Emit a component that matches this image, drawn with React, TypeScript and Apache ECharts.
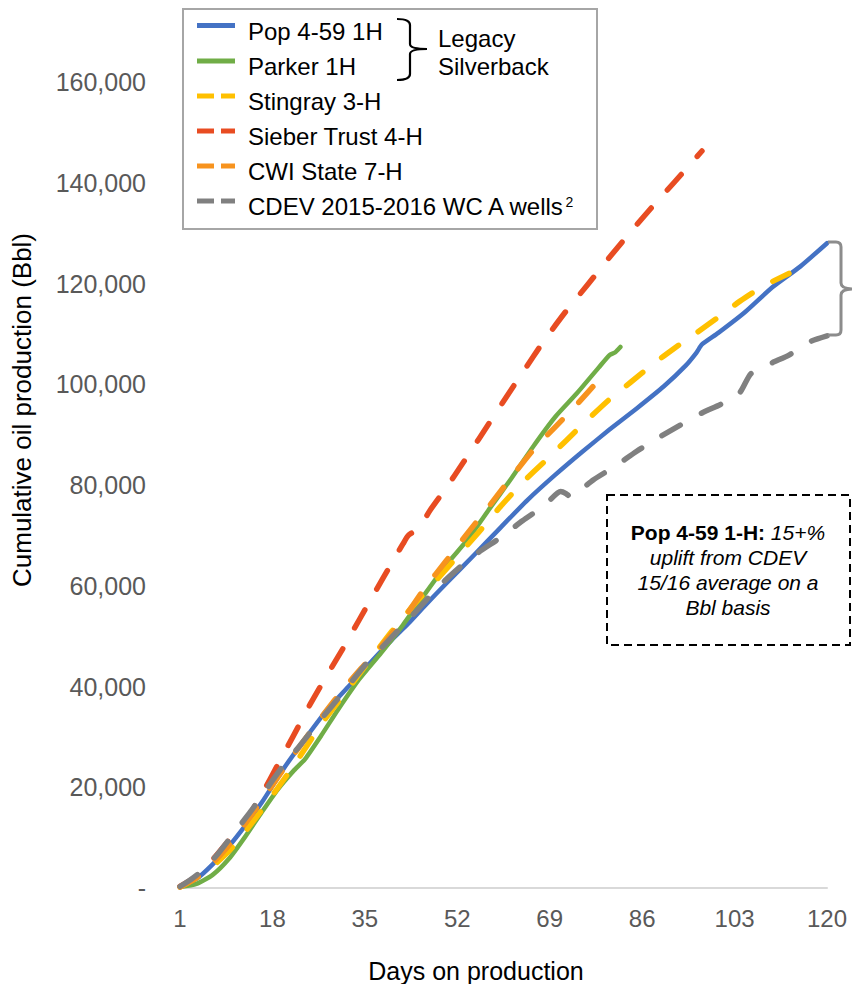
import React, { useEffect, useRef } from 'react';
import * as echarts from 'echarts';

const FONT = 'Liberation Sans, Arial, Helvetica, sans-serif';

// x axis: days on production
const days: string[] = Array.from({ length: 120 }, (_, i) => String(i + 1));

// [day, cumulative Bbl]
const popData: [number, number][] = [
  [1, 300], [4, 1800], [7, 4700], [10, 8300], [13, 12400], [16, 16900], [20, 23600], [24, 29600],
  [28, 35300], [32, 40000], [36, 44700], [40, 49300], [43, 52500], [46, 56000], [50, 60500],
  [55, 66000], [60, 71600], [65, 77100], [70, 82000], [75, 86600], [80, 91000], [85, 95200],
  [90, 99600], [94, 103700], [96, 106300], [97, 107900], [100, 110200], [105, 114400],
  [110, 119300], [115, 123300], [120, 128000],
];

const parkerData: [number, number][] = [
  [1, 200], [4, 800], [7, 2600], [10, 5800], [13, 10200], [16, 15000], [19, 19600], [22, 23400],
  [24, 25600], [27, 30300], [30, 35300], [34, 41500], [38, 46700], [42, 52200], [46, 58300],
  [50, 64200], [54, 69300], [58, 75400], [62, 81400], [66, 87700], [70, 93500], [74, 98200],
  [78, 103300], [80, 105800], [81, 106300], [82, 107400],
];

const stingrayData: [number, number][] = [
  [1, 200], [4, 2000], [7, 4300], [10, 7300], [13, 11200], [16, 15400], [19, 19900], [22, 24400],
  [25, 29300], [28, 34000], [31, 38200], [34, 42500], [37, 46800], [40, 51000], [44, 56200],
  [48, 60900], [52, 65800], [56, 70700], [60, 75800], [64, 80500], [68, 84600], [72, 88800],
  [76, 93000], [80, 97000], [84, 100500], [88, 104000], [92, 107200], [96, 110200], [100, 113300],
  [104, 116500], [108, 119300], [113, 122000],
];

const sieberData: [number, number][] = [
  [1, 300], [4, 2300], [7, 5600], [10, 9500], [13, 13300], [16, 18500], [19, 24500], [22, 30500],
  [25, 36600], [28, 42200], [31, 47600], [34, 53300], [37, 59000], [40, 64600], [42, 68300],
  [43, 70000], [45, 71500], [47, 75000], [50, 79500], [53, 84300], [56, 89200], [60, 95800],
  [64, 102300], [68, 108700], [72, 114500], [76, 119800], [80, 125200], [84, 130400],
  [88, 135400], [92, 140200], [97, 146300],
];

const cwiData: [number, number][] = [
  [1, 200], [4, 2000], [7, 4900], [10, 8500], [13, 12800], [16, 17300], [19, 22000], [22, 26600],
  [25, 31000], [28, 35300], [31, 39400], [34, 43200], [37, 46700], [40, 50600], [43, 54800],
  [46, 59500], [50, 65000], [54, 70600], [58, 76000], [62, 81600], [66, 87000], [70, 91500],
  [74, 96000], [78, 100800],
];

const cdevData: [number, number][] = [
  [1, 300], [3, 1700], [5, 3400], [8, 6800], [11, 11000], [14, 15200], [17, 19800], [20, 24300],
  [23, 28200], [26, 32300], [29, 36200], [32, 40200], [35, 44200], [38, 47600], [41, 51000],
  [44, 54400], [47, 58000], [50, 61300], [53, 64200], [56, 66700], [60, 69600], [64, 72900],
  [68, 75900], [71, 78700], [72, 78300], [73, 77500], [74, 78400], [77, 81000], [81, 83700],
  [85, 86700], [89, 89400], [93, 91900], [97, 94300], [101, 96300], [104, 98400], [106, 102100],
  [110, 104300], [113, 105800], [117, 108500], [120, 109600],
];

const seriesNames = [
  'Pop 4-59 1H',
  'Parker 1H',
  'Stingray 3-H',
  'Sieber Trust 4-H',
  'CWI State 7-H',
  'CDEV 2015-2016 WC A wells',
];
const seriesColors = ['#4472C4', '#70AD47', '#FFC000', '#E84C22', '#F7931E', '#808080'];
const seriesDashed = [false, false, true, true, true, true];
const seriesData = [popData, parkerData, stingrayData, sieberData, cwiData, cdevData];

const yMax = 160000;
const yStep = 20000;

export default function App() {
  const ref = useRef<HTMLDivElement>(null);

  useEffect(() => {
    document.body.style.margin = '0';
    if (!ref.current) return;

    echarts.graphic.registerShape(
      'legendBrace',
      echarts.graphic.extendPath(
        'M0,0 Q13,0 13,6 L13,25 Q13,30 30,30 M30,30 Q13,30 13,35 L13,55 Q13,61 0,61',
        {}
      )
    );
    echarts.graphic.registerShape(
      'rightBrace',
      echarts.graphic.extendPath(
        'M0,0 L8,0 Q13,0 13,5 L13,41 Q13,47 26,47 M26,47 Q13,47 13,53 L13,88 Q13,93 8,93 L0,93',
        {}
      )
    );

    const chart = echarts.init(ref.current, undefined, { renderer: 'svg' });

    const legendText = [31, 66.5, 101.5, 136.5, 171.5, 206.5];
    const legendElems: any[] = [
      {
        type: 'rect',
        z: 100,
        shape: { x: 183, y: 9, width: 414, height: 220 },
        style: { fill: '#ffffff', stroke: '#a6a6a6', lineWidth: 2 },
      },
    ];
    seriesNames.forEach((name, i) => {
      const ty = legendText[i];
      const ly = ty - 5.5;
      if (seriesDashed[i]) {
        legendElems.push({
          type: 'line', z: 101,
          shape: { x1: 197, y1: ly, x2: 214, y2: ly },
          style: { stroke: seriesColors[i], lineWidth: 5 },
        });
        legendElems.push({
          type: 'line', z: 101,
          shape: { x1: 221, y1: ly, x2: 235, y2: ly },
          style: { stroke: seriesColors[i], lineWidth: 5 },
        });
      } else {
        legendElems.push({
          type: 'line', z: 101,
          shape: { x1: 197, y1: ly, x2: 235, y2: ly },
          style: { stroke: seriesColors[i], lineWidth: 5 },
        });
      }
      const isCdev = i === 5;
      legendElems.push({
        type: 'text', z: 101, x: 248, y: ty,
        style: {
          text: isCdev ? name + '{sup|2}' : name,
          fontSize: 24, fontFamily: FONT, fill: '#000000',
          verticalAlign: 'middle', align: 'left',
          rich: isCdev ? { sup: { fontSize: 14, fontFamily: FONT, fill: '#000000', verticalAlign: 'top' } } : undefined,
        },
      });
    });
    legendElems.push({
      type: 'legendBrace', z: 101, x: 397, y: 19,
      style: { fill: 'none', stroke: '#000000', lineWidth: 2.2 },
    });
    legendElems.push({
      type: 'text', z: 101, x: 438, y: 38,
      style: { text: 'Legacy', fontSize: 24, fontFamily: FONT, fill: '#000000', verticalAlign: 'middle' },
    });
    legendElems.push({
      type: 'text', z: 101, x: 438, y: 66,
      style: { text: 'Silverback', fontSize: 24, fontFamily: FONT, fill: '#000000', verticalAlign: 'middle' },
    });

    const option: any = {
      animation: false,
      backgroundColor: '#ffffff',
      grid: { left: 180, right: 25, top: 82, bottom: 96, containLabel: false, outerBoundsMode: 'none' },
      xAxis: {
        type: 'category',
        data: days,
        boundaryGap: false,
        axisLine: { show: true, lineStyle: { color: '#d9d9d9', width: 2 } },
        axisTick: { show: false },
        splitLine: { show: false },
        axisLabel: {
          interval: 16,
          fontSize: 24,
          fontFamily: FONT,
          color: '#595959',
          margin: 18,
        },
      },
      yAxis: {
        type: 'value',
        min: 0,
        max: yMax,
        interval: yStep,
        axisLine: { show: false },
        axisTick: { show: false },
        splitLine: { show: false },
        axisLabel: {
          fontSize: 25,
          fontFamily: FONT,
          color: '#595959',
          margin: 34,
          formatter: (v: number) => (v === 0 ? '-' : v.toLocaleString('en-US')),
        },
      },
      series: seriesNames.map((name, i) => ({
        name,
        type: 'line',
        symbol: 'none',
        smooth: 0.2,
        z: 2 + i,
        data: seriesData[i].map(([d, v]) => [d - 1, v]),
        lineStyle: {
          color: seriesColors[i],
          width: seriesDashed[i] ? 5.5 : 4.5,
          type: seriesDashed[i] ? [21, 24] : 'solid',
          cap: 'round',
          join: 'round',
        },
        itemStyle: { color: seriesColors[i] },
      })),
      graphic: [
        {
          type: 'text', x: 22, y: 410, rotation: Math.PI / 2,
          style: {
            text: 'Cumulative oil production (Bbl)', fontSize: 26, fontFamily: FONT,
            fill: '#000000', align: 'center', verticalAlign: 'middle',
          },
        },
        {
          type: 'text', x: 476, y: 971,
          style: {
            text: 'Days on production', fontSize: 25, fontFamily: FONT,
            fill: '#000000', align: 'center', verticalAlign: 'middle',
          },
        },
        ...legendElems,
        {
          type: 'rightBrace', x: 828, y: 242, z: 50,
          style: { fill: 'none', stroke: '#8c8c8c', lineWidth: 3 },
        },
        {
          type: 'rect', z: 50,
          shape: { x: 607, y: 495, width: 243, height: 150 },
          style: { fill: '#ffffff', stroke: '#000000', lineWidth: 2, lineDash: [8, 5] },
        },
        {
          type: 'text', z: 51, x: 728, y: 570,
          style: {
            text: '{b|Pop 4-59 1-H:}{i| 15+%}\n{i|uplift from CDEV}\n{i|15/16 average on a}\n{i|Bbl basis}',
            align: 'center', verticalAlign: 'middle', fill: '#000000',
            fontSize: 21, fontFamily: FONT,
            rich: {
              b: { fontWeight: 'bold', fontSize: 21, fontFamily: FONT, fill: '#000000', lineHeight: 25 },
              i: { fontStyle: 'italic', fontSize: 21, fontFamily: FONT, fill: '#000000', lineHeight: 25 },
            },
          },
        },
      ],
    };

    chart.setOption(option);
    return () => {
      chart.dispose();
    };
  }, []);

  return <div ref={ref} style={{ width: 852, height: 984 }} />;
}
